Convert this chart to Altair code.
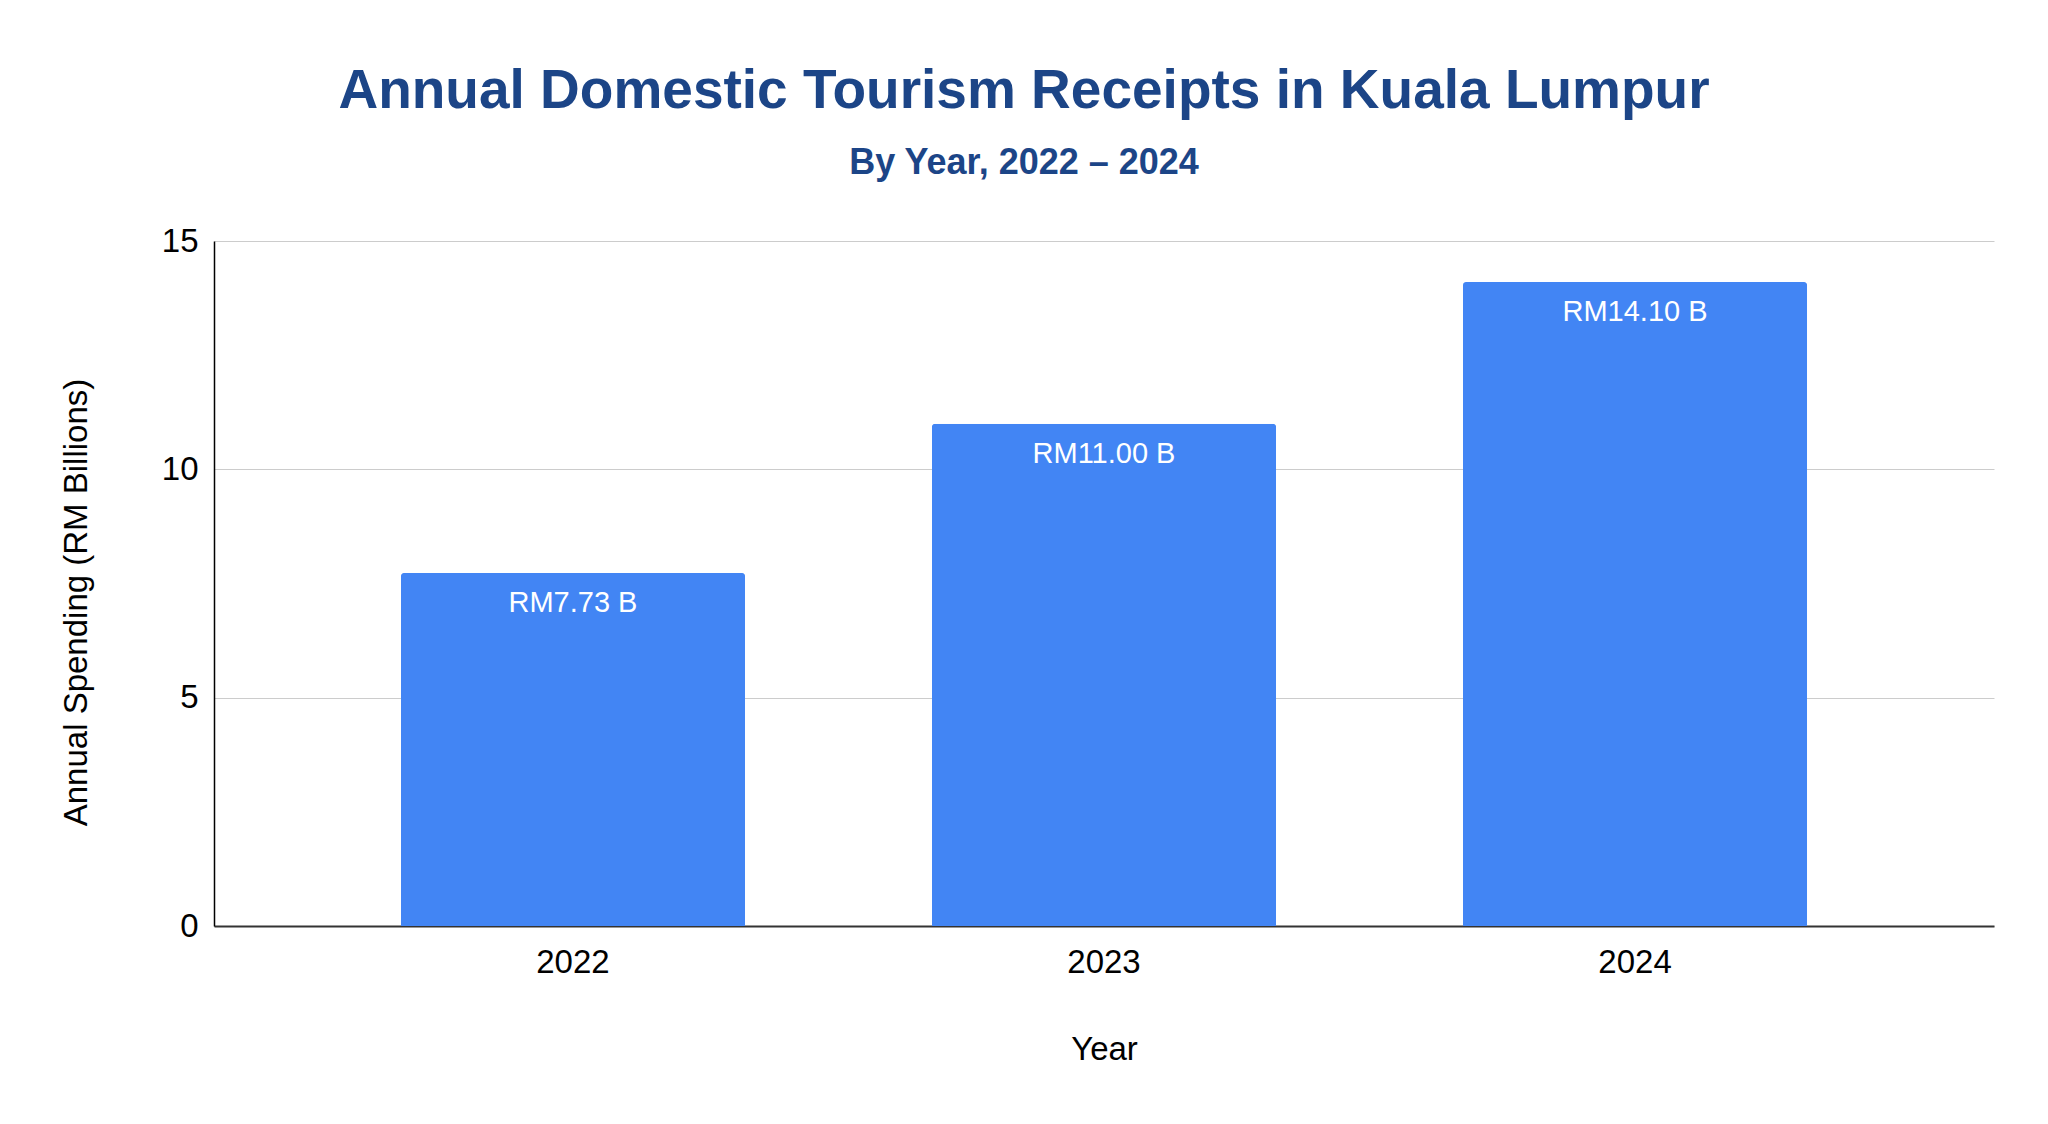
import altair as alt
import pandas as pd

years = ["2022", "2023", "2024"]
receipts = [7.73, 11.00, 14.10]
bar_labels = ["RM7.73 B", "RM11.00 B", "RM14.10 B"]
y_ticks = [0, 5, 10, 15]

data = pd.DataFrame({"year": years, "receipts": receipts, "label": bar_labels})

font = "Liberation Sans"
title_blue = "#1c4587"

base = alt.Chart(data).encode(
    alt.X("year:N")
    .scale(paddingInner=0.352, paddingOuter=0.352)
    .axis(
        title="Year",
        labelAngle=0,
        labelFontSize=33,
        labelColor="#000000",
        labelBaseline="alphabetic",
        labelPadding=46,
        ticks=False,
        tickSize=0,
        domainColor="#333333",
        domainWidth=2,
        titleFontSize=33,
        titleFontWeight="normal",
        titleColor="#000000",
        titleBaseline="alphabetic",
        titleY=133,
    ),
    alt.Y("receipts:Q")
    .scale(domain=[0, 15])
    .axis(
        title="Annual Spending (RM Billions)",
        values=y_ticks,
        labelFontSize=33,
        labelColor="#000000",
        labelPadding=16,
        ticks=False,
        tickSize=0,
        domainColor="#000000",
        domainWidth=1.5,
        gridColor="#cccccc",
        gridWidth=1,
        titleFontSize=33,
        titleFontWeight="normal",
        titleColor="#000000",
        titleBaseline="alphabetic",
        titleX=-128,
        titleY=361,
    ),
)

bars = base.mark_bar(color="#4285f4", cornerRadiusTopLeft=3, cornerRadiusTopRight=3)

texts = base.mark_text(
    baseline="alphabetic", dy=39, color="#ffffff", fontSize=29, font=font
).encode(text="label:N")

chart = (
    (bars + texts)
    .properties(
        width=1780,
        height=685,
        autosize=alt.AutoSizeParams(type="none"),
        padding={"left": 206, "top": 233, "right": 46, "bottom": 186},
        title=alt.TitleParams(
            text="Annual Domestic Tourism Receipts in Kuala Lumpur",
            subtitle="By Year, 2022 – 2024",
            anchor="middle",
            dx=-80,
            offset=43,
            fontSize=55,
            fontWeight="bold",
            color=title_blue,
            subtitleFontSize=36,
            subtitleFontWeight="bold",
            subtitleColor=title_blue,
            subtitlePadding=26,
            font=font,
            subtitleFont=font,
        ),
    )
    .configure_view(stroke=None)
    .configure_axis(labelFont=font, titleFont=font)
)

chart.save("out.html", embed_options={"renderer": "svg", "actions": False})
